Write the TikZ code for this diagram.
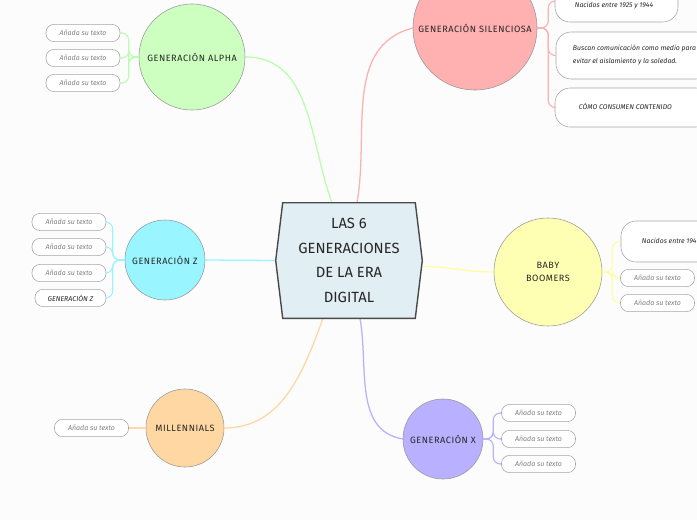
\documentclass[tikz,border=0pt]{standalone}
\usepackage{fontspec}
\setmainfont{Fira Sans}
\newfontfamily\rotulo[LetterSpace=6]{Fira Sans}
\usetikzlibrary{calc}
\definecolor{fondoCentro}{HTML}{E1EEF4}
\definecolor{bordeCentro}{HTML}{4A4A4A}
\definecolor{verdeAlpha}{HTML}{CCFFC0}
\definecolor{rosaSil}{HTML}{FFB0B0}
\definecolor{cianZ}{HTML}{99F5FF}
\definecolor{amarilloBB}{HTML}{FFFFB3}
\definecolor{naranjaMil}{HTML}{FFD7A3}
\definecolor{lilaX}{HTML}{B9B0FF}
\begin{document}
\begin{tikzpicture}[x=0.025cm, y=-0.025cm,
	generacion/.style={circle, draw=gray!80, inner sep=0pt, align=center, text=black!85, font=\rotulo\fontsize{6.5}{9}\selectfont},
	hoja/.style={draw=gray!70, fill=white, rounded corners=0.2cm, minimum width=1.85cm, minimum height=0.43cm, inner sep=0pt, text=gray, font=\fontsize{5}{6}\selectfont\itshape},
	hojagrande/.style={draw=gray!70, fill=white, rounded corners=0.38cm, inner sep=0pt},
	textogrande/.style={text=black!85, font=\fontsize{4.9}{9}\selectfont\itshape},
	rama/.style={line width=0.8pt, rounded corners=5}]
	\useasboundingbox (0,0) rectangle (697,520);
	\clip (0,0) rectangle (697,520);
	\fill[gray!2] (0,0) rectangle (697,520);
	% centro
	\node[minimum width=3.3cm, minimum height=2.875cm, inner sep=0pt] (centro) at (349,260.5) {};
	\coordinate (ptW) at ($(centro.west)+(-7,0)$);
	\coordinate (ptE) at ($(centro.east)+(7,0)$);
	% generaciones
	\node[generacion, fill=verdeAlpha, minimum size=2.65cm] (alpha) at (192,57) {GENERACIÓN ALPHA};
	\node[generacion, fill=rosaSil, minimum size=3.1cm] (silenciosa) at (475,28) {GENERACIÓN SILENCIOSA};
	\node[generacion, fill=cianZ, minimum size=2cm] (genz) at (165,260) {GENERACIÓN Z};
	\node[generacion, fill=amarilloBB, minimum size=2.7cm] (boomers) at (548,272) {BABY\\BOOMERS};
	\node[generacion, fill=naranjaMil, minimum size=1.95cm] (millennials) at (185,428) {MILLENNIALS};
	\node[generacion, fill=lilaX, minimum size=2cm] (genx) at (443,439) {GENERACIÓN X};
	% hojas
	\node[hoja] (alpha1) at (83,33) {Añada su texto};
	\node[hoja] (alpha2) at (83,58) {Añada su texto};
	\node[hoja] (alpha3) at (83,83) {Añada su texto};
	\node[hojagrande, minimum width=3.075cm, minimum height=1.05cm] (sil1) at (616.5,1) {};
	\node[textogrande] (sil1txt) at (614,6) {Nacidos entre 1925 y 1944};
	\node[hojagrande, minimum width=3.875cm, minimum height=1.175cm] (sil2) at (633.5,55.5) {};
	\node[textogrande, anchor=west, align=left] (sil2txt) at (568,55) {Buscan comunicación como medio para\\evitar el aislamiento y la soledad.};
	\node[hojagrande, minimum width=3.9cm, minimum height=0.975cm] (sil3) at (633,107.5) {};
	\node[textogrande, anchor=west] (sil3txt) at (574,106) {CÓMO CONSUMEN CONTENIDO};
	\node[hoja] (z1) at (69,222) {Añada su texto};
	\node[hoja] (z2) at (69,247) {Añada su texto};
	\node[hoja] (z3) at (69,273) {Añada su texto};
	\node[hoja, minimum width=1.775cm, text=black!85] (z4) at (70.5,298) {GENERACIÓN Z};
	\node[hojagrande, minimum width=2.5cm, minimum height=1.025cm] (bb1) at (671,241.5) {};
	\node[textogrande, anchor=west] (bb1txt) at (637,241) {Nacidos entre 194};
	\node[hoja] (bb2) at (657.5,278) {Añada su texto};
	\node[hoja] (bb3) at (657.5,303) {Añada su texto};
	\node[hoja] (mil1) at (91.5,428) {Añada su texto};
	\node[hoja] (x1) at (538.5,413) {Añada su texto};
	\node[hoja] (x2) at (538.5,439) {Añada su texto};
	\node[hoja] (x3) at (538.5,464) {Añada su texto};
	% ramas principales
	\draw[line width=0.9pt, verdeAlpha!90!green] (alpha.east) to[out=0, in=110] ($(centro.north)+(-17,0)$);
	\draw[line width=0.9pt, rosaSil] ($(centro.north)+(8,0)$) to[out=80, in=195] (silenciosa.west);
	\draw[line width=0.9pt, cianZ] (genz.east) -- (ptW);
	\draw[line width=0.9pt, amarilloBB!90!yellow] ($(ptE)+(0,6)$) to[out=0, in=180] (boomers.west);
	\draw[line width=0.9pt, naranjaMil] ($(centro.south)+(-26,0)$) to[out=250, in=0] (millennials.east);
	\draw[line width=0.9pt, lilaX] ($(centro.south)+(11,0)$) to[out=-80, in=170] (genx.west);
	% ramas secundarias
	\foreach \h in {alpha1,alpha2,alpha3}
		\draw[rama, verdeAlpha!90!green] (alpha.west) -- ++(-10,0) |- (\h.east);
	\foreach \h in {sil1,sil2,sil3}
		\draw[rama, rosaSil] (silenciosa.east) -- ++(11,0) |- (\h.west);
	\foreach \h in {z1,z2,z3,z4}
		\draw[rama, cianZ] (genz.west) -- ++(-12,0) |- (\h.east);
	\foreach \h in {bb1,bb2,bb3}
		\draw[rama, amarilloBB!90!yellow] (boomers.east) -- ++(10,0) |- (\h.west);
	\draw[rama, naranjaMil] (millennials.west) -- (mil1.east);
	\foreach \h in {x1,x2,x3}
		\draw[rama, lilaX] (genx.east) -- ++(10,0) |- (\h.west);
	% hexagono del centro
	\draw[bordeCentro, line width=1pt, fill=fondoCentro] (centro.north west) -- (centro.north east) -- (ptE) -- (centro.south east) -- (centro.south west) -- (ptW) -- cycle;
	\node[align=center, text=black!85, font=\fontsize{10.5}{17.5}\selectfont] (centrotxt) at (centro) {LAS 6\\GENERACIONES\\DE LA ERA\\DIGITAL};
\end{tikzpicture}
\end{document}
